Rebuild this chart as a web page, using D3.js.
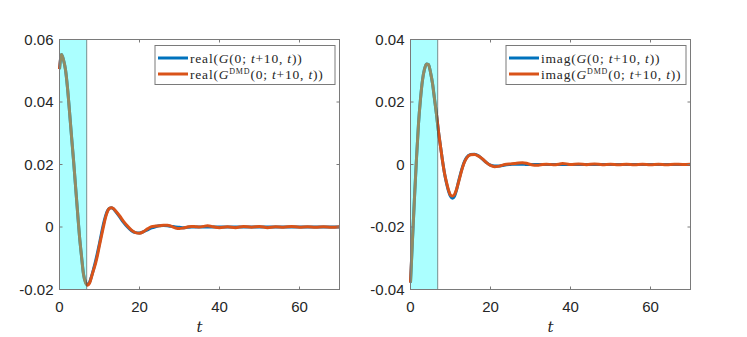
<!DOCTYPE html>
<html>
<head>
<meta charset="utf-8">
<script src="https://cdn.jsdelivr.net/npm/d3@7"></script>
<style>
  body { margin: 0; background: #fff; }
  svg { display: block; }
</style>
</head>
<body>
<svg id="chart" width="747" height="337"></svg>
<script>
// time grid shared by both panels
const tValues = [
  0, 0.5, 1, 1.5, 2, 2.5, 3, 3.5, 4, 4.5, 5, 5.5, 6, 6.5, 7, 7.5, 8, 8.5, 9, 9.5,
  10, 10.5, 11, 11.5, 12, 12.5, 13, 13.5, 14,
  15, 16, 17, 18, 19, 20, 21, 22, 23, 24, 25, 26, 27, 28, 29, 30,
  31, 32, 33, 34, 35, 36, 37, 38, 39, 40,
  42, 44, 46, 48, 50, 52, 54, 56, 58, 60, 62, 64, 66, 68, 70,
];

// real part, exact
const realTrue = [
  0.0505, 0.0552, 0.0535, 0.0503, 0.0445, 0.037, 0.0291, 0.0215, 0.0132, 0.005,
  -0.003, -0.0093, -0.015, -0.0176, -0.0184, -0.0177, -0.0158, -0.0135, -0.011, -0.0082,
  -0.0052, -0.002, 0.001, 0.0035, 0.0052, 0.006, 0.0062, 0.0058, 0.005,
  0.0033, 0.0015, 0.0, -0.0012, -0.0018, -0.0019, -0.0015, -0.0009, -0.0003, 0.0001,
  0.0004, 0.0005, 0.0004, 0.0002, 0.0, -0.0001,
  -0.0002, -0.0001, 0.0, 0.0, 0.0, 0.0, 0.0, 0.0, 0.0, 0.0,
  0, 0, 0, 0, 0, 0, 0, 0, 0, 0, 0, 0, 0, 0, 0,
];
// real part, DMD
const realDmd = [
  0.0505, 0.0552, 0.0535, 0.0503, 0.0445, 0.037, 0.0291, 0.0215, 0.0132, 0.005,
  -0.003, -0.0093, -0.0152, -0.0178, -0.0186, -0.018, -0.016, -0.0138, -0.0117, -0.009,
  -0.0058, -0.0028, 0.0002, 0.003, 0.005, 0.006, 0.0062, 0.0059, 0.0052,
  0.0036, 0.0018, 0.0003, -0.001, -0.0018, -0.002, -0.0015, -0.0006, 0.0001, 0.0003,
  0.0004, 0.0006, 0.0006, 0.0002, -0.0003, -0.0005,
  -0.0003, 0.0, 0.0002, 0.0001, 0.0, 0.0002, 0.0004, 0.0002, -0.0001, -0.0002,
  0.0001, -0.0002, 0.0002, -0.0001, 0.0002, -0.0002, 0.0001, -0.0001, 0.0002, -0.0001,
  0.0001, -0.0001, 0.0001, -0.0001, 0.0001,
];
// imaginary part, exact
const imagTrue = [
  -0.0378, -0.024, -0.0105, 0.002, 0.013, 0.021, 0.027, 0.0305, 0.0322, 0.032,
  0.0295, 0.026, 0.021, 0.016, 0.0105, 0.0058, 0.0012, -0.0028, -0.006, -0.0085,
  -0.0102, -0.0108, -0.0102, -0.0082, -0.0055, -0.003, -0.0008, 0.001, 0.0022,
  0.0032, 0.0033, 0.0028, 0.0017, 0.0006, -0.0002, -0.0005, -0.0005, -0.0003, -0.0001,
  0.0, 0.0001, 0.0001, 0.0001, 0.0, 0.0,
  0, 0, 0, 0, 0, 0, 0, 0, 0, 0,
  0, 0, 0, 0, 0, 0, 0, 0, 0, 0, 0, 0, 0, 0, 0,
];
// imaginary part, DMD
const imagDmd = [
  -0.0378, -0.024, -0.0105, 0.002, 0.013, 0.021, 0.027, 0.0305, 0.0322, 0.032,
  0.0295, 0.026, 0.021, 0.016, 0.0105, 0.0058, 0.0012, -0.0028, -0.0057, -0.0082,
  -0.0098, -0.0101, -0.0096, -0.008, -0.0057, -0.0033, -0.001, 0.0008, 0.002,
  0.0031, 0.0032, 0.0027, 0.0018, 0.0006, -0.0003, -0.0007, -0.0006, -0.0002, 0.0001,
  0.0002, 0.0003, 0.0005, 0.0006, 0.0004, 0.0,
  -0.0002, -0.0002, 0.0, 0.0001, 0.0, -0.0001, 0.0001, 0.0003, 0.0002, 0.0,
  0.0002, -0.0001, 0.0002, -0.0001, 0.0001, -0.0001, 0.0001, -0.0001, 0.0001, -0.0001,
  0.0001, -0.0001, 0.0001, 0.0, 0.0001,
];

const xTicks = [0, 20, 40, 60];
const realTicks = [-0.02, 0, 0.02, 0.04, 0.06];
const imagTicks = [-0.04, -0.02, 0, 0.02, 0.04];
const trainEnd = 6.8;

const blue = "#0072BD";
const orange = "#D95319";
const textColor = "#262626";

const svg = d3.select("#chart");

function drawPanel(opts) {
  const x = d3.scaleLinear().domain([0, 70]).range([opts.left, opts.left + 280]);
  const y = d3.scaleLinear().domain(opts.yDomain).range([289.5, 39.5]);
  const g = svg.append("g");

  const line = (vals) =>
    d3.line()
      .x((d, i) => x(tValues[i]))
      .y((d) => y(d))
      .curve(d3.curveMonotoneX)(vals);

  g.append("path")
    .attr("d", line(opts.exact))
    .attr("fill", "none")
    .attr("stroke", blue)
    .attr("stroke-width", 3)
    .attr("stroke-linejoin", "round");
  g.append("path")
    .attr("d", line(opts.dmd))
    .attr("fill", "none")
    .attr("stroke", orange)
    .attr("stroke-width", 3)
    .attr("stroke-linejoin", "round");

  // training window patch, semi-transparent on top of curves
  g.append("rect")
    .attr("x", x(0))
    .attr("y", y(opts.yDomain[1]))
    .attr("width", x(trainEnd) - x(0))
    .attr("height", y(opts.yDomain[0]) - y(opts.yDomain[1]))
    .attr("fill", "#00ffff")
    .attr("fill-opacity", 0.33)
    .attr("stroke", "#333")
    .attr("stroke-opacity", 0.55)
    .attr("stroke-width", 1);

  // axes box
  const x0 = x(0), x1 = x(70), y0 = y(opts.yDomain[0]), y1 = y(opts.yDomain[1]);
  g.append("rect")
    .attr("x", x0).attr("y", y1)
    .attr("width", x1 - x0).attr("height", y0 - y1)
    .attr("fill", "none")
    .attr("stroke", "#7a7a7a")
    .attr("stroke-width", 1);

  // inner ticks
  xTicks.forEach((t) => {
    g.append("line").attr("x1", x(t)).attr("x2", x(t)).attr("y1", y0).attr("y2", y0 - 3)
      .attr("stroke", "#7a7a7a");
    g.append("line").attr("x1", x(t)).attr("x2", x(t)).attr("y1", y1).attr("y2", y1 + 3)
      .attr("stroke", "#7a7a7a");
  });
  opts.yTicks.forEach((v) => {
    g.append("line").attr("x1", x0).attr("x2", x0 + 3).attr("y1", y(v)).attr("y2", y(v))
      .attr("stroke", "#7a7a7a");
    g.append("line").attr("x1", x1).attr("x2", x1 - 3).attr("y1", y(v)).attr("y2", y(v))
      .attr("stroke", "#7a7a7a");
  });

  // tick labels
  g.selectAll(".xl")
    .data(xTicks)
    .enter()
    .append("text")
    .attr("x", (d) => x(d))
    .attr("y", y0 + 22.5)
    .attr("text-anchor", "middle")
    .attr("font-family", "Liberation Sans, Arial, sans-serif")
    .attr("font-size", 15)
    .attr("fill", textColor)
    .text((d) => d);
  g.selectAll(".yl")
    .data(opts.yTicks)
    .enter()
    .append("text")
    .attr("x", x0 - 6)
    .attr("y", (d) => y(d))
    .attr("dy", "0.36em")
    .attr("text-anchor", "end")
    .attr("font-family", "Liberation Sans, Arial, sans-serif")
    .attr("font-size", 15)
    .attr("fill", textColor)
    .text((d) => (d === 0 ? "0" : d.toFixed(2)));

  // axis label
  g.append("text")
    .attr("x", (x0 + x1) / 2)
    .attr("y", 332)
    .attr("text-anchor", "middle")
    .attr("font-family", "DejaVu Serif, serif")
    .attr("font-style", "italic")
    .attr("font-size", 15)
    .attr("fill", textColor)
    .text("t");

  // legend
  const lx = x0 + 95.5;
  const legend = g.append("g");
  legend.append("rect")
    .attr("x", lx).attr("y", 45.5)
    .attr("width", 180).attr("height", 39)
    .attr("fill", "#fff")
    .attr("stroke", "#7a7a7a");
  [[blue, 58, false], [orange, 74, true]].forEach(([c, ly, dmd]) => {
    legend.append("line")
      .attr("x1", lx + 3).attr("x2", lx + 33)
      .attr("y1", ly).attr("y2", ly)
      .attr("stroke", c).attr("stroke-width", 3);
    const txt = legend.append("text")
      .attr("x", lx + 35)
      .attr("y", ly + 4.5)
      .attr("font-family", "Liberation Serif, Times New Roman, serif")
      .attr("font-size", 13.5)
      .attr("letter-spacing", 0.8)
      .attr("fill", textColor);
    txt.append("tspan").text(opts.fn + "(");
    txt.append("tspan").attr("font-style", "italic").text("G");
    if (dmd) {
      txt.append("tspan").attr("font-size", 8).attr("dy", -5).text("DMD");
      txt.append("tspan").attr("dy", 5).text("(0; ");
    } else {
      txt.append("tspan").text("(0; ");
    }
    txt.append("tspan").attr("font-style", "italic").text("t");
    txt.append("tspan").text("+10, ");
    txt.append("tspan").attr("font-style", "italic").text("t");
    txt.append("tspan").text("))");
  });
}

drawPanel({
  left: 59.5,
  yDomain: [-0.02, 0.06],
  yTicks: realTicks,
  exact: realTrue,
  dmd: realDmd,
  fn: "real",
});
drawPanel({
  left: 410.5,
  yDomain: [-0.04, 0.04],
  yTicks: imagTicks,
  exact: imagTrue,
  dmd: imagDmd,
  fn: "imag",
});
</script>
</body>
</html>
